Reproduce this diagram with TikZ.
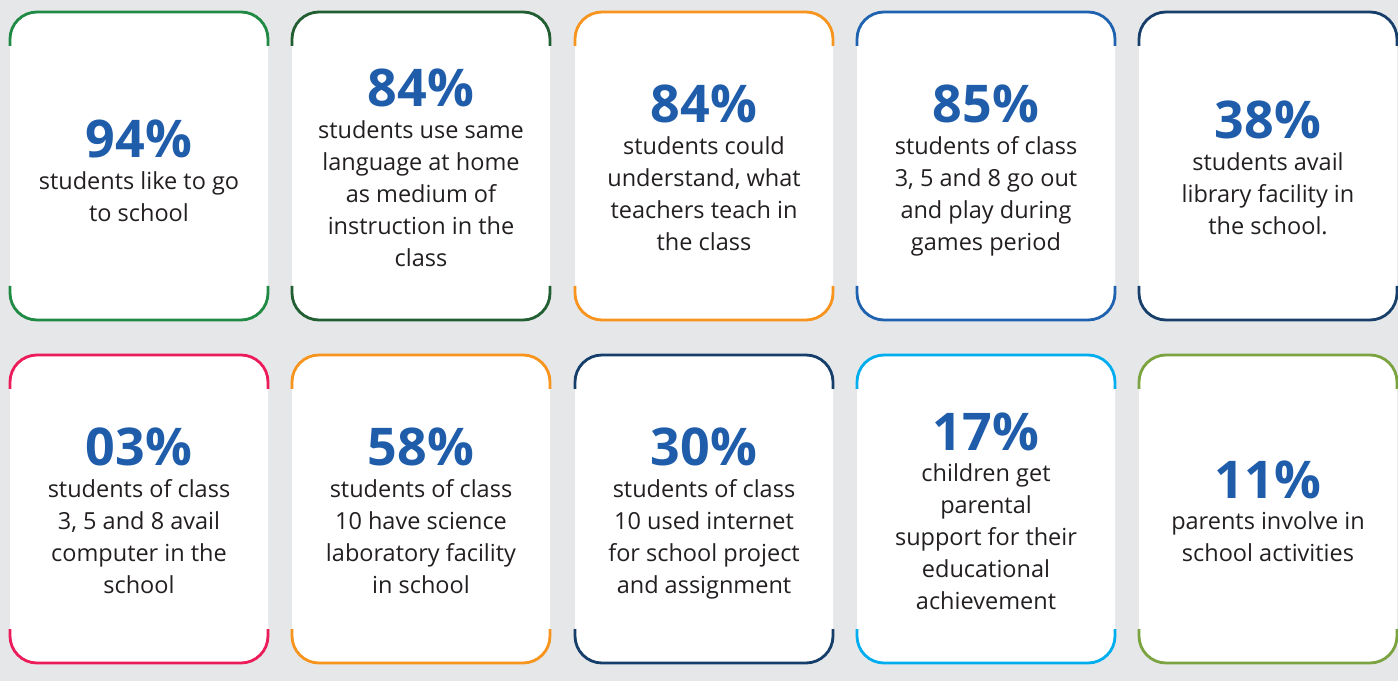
\documentclass[tikz,border=0pt]{standalone}
\usepackage{fontspec}
\setmainfont{Open Sans}
\usetikzlibrary{positioning}
\definecolor{bgColor}{RGB}{230,231,233}
\definecolor{pctColor}{RGB}{31,93,170}
\definecolor{txtColor}{RGB}{35,31,32}
\tikzset{
  rim/.style={line width=2.8pt,rounded corners=27pt,line cap=butt},
  pct/.style={text=pctColor,anchor=base,inner sep=0pt,outer sep=0pt,font=\fontsize{52}{52}\selectfont\bfseries},
  body/.style={text=txtColor,anchor=north,align=center,inner sep=0pt,outer sep=0pt,font=\fontsize{23.5}{32}\selectfont},
}
\begin{document}
\begin{tikzpicture}[x=1pt,y=1pt]
\path[use as bounding box,fill=bgColor] (0,0) rectangle (1398,681);
\definecolor{cardA}{RGB}{30,138,68}
\definecolor{cardB}{RGB}{33,94,50}
\definecolor{cardC}{RGB}{247,148,29}
\definecolor{cardD}{RGB}{31,99,176}
\definecolor{cardE}{RGB}{23,63,106}
\definecolor{cardF}{RGB}{236,28,91}
\definecolor{cardG}{RGB}{247,148,29}
\definecolor{cardH}{RGB}{21,62,107}
\definecolor{cardI}{RGB}{0,174,239}
\definecolor{cardJ}{RGB}{123,163,63}

% top row
\path[fill=white,rounded corners=27pt] ( 10,361) rectangle ( 268,669);
\path[draw=cardA,rim] ( 10,635) -- ( 10,669) -- ( 268,669) -- ( 268,635);
\path[draw=cardA,rim] ( 10,395) -- ( 10,361) -- ( 268,361) -- ( 268,395);
\node[pct] (p1) at (139,523) {94\%};
\node[body,below=13.5pt of p1] (t1) {students like to go\\to school};

\path[fill=white,rounded corners=27pt] (292,361) rectangle ( 550,669);
\path[draw=cardB,rim] (292,635) -- (292,669) -- ( 550,669) -- ( 550,635);
\path[draw=cardB,rim] (292,395) -- (292,361) -- ( 550,361) -- ( 550,395);
\node[pct] (p2) at (421,574) {84\%};
\node[body,below=13.5pt of p2] (t2) {students use same\\language at home\\as medium of\\instruction in the\\class};

\path[fill=white,rounded corners=27pt] (575,361) rectangle ( 833,669);
\path[draw=cardC,rim] (575,635) -- (575,669) -- ( 833,669) -- ( 833,635);
\path[draw=cardC,rim] (575,395) -- (575,361) -- ( 833,361) -- ( 833,395);
\node[pct] (p3) at (704,558) {84\%};
\node[body,below=13.5pt of p3] (t3) {students could\\understand, what\\teachers teach in\\the class};

\path[fill=white,rounded corners=27pt] (857,361) rectangle (1115,669);
\path[draw=cardD,rim] (857,635) -- (857,669) -- (1115,669) -- (1115,635);
\path[draw=cardD,rim] (857,395) -- (857,361) -- (1115,361) -- (1115,395);
\node[pct] (p4) at (986,558) {85\%};
\node[body,below=13.5pt of p4] (t4) {students of class\\3, 5 and 8 go out\\and play during\\games period};

\path[fill=white,rounded corners=27pt] (1139,361) rectangle (1397,669);
\path[draw=cardE,rim] (1139,635) -- (1139,669) -- (1397,669) -- (1397,635);
\path[draw=cardE,rim] (1139,395) -- (1139,361) -- (1397,361) -- (1397,395);
\node[pct] (p5) at (1268,542) {38\%};
\node[body,below=13.5pt of p5] (t5) {students avail\\library facility in\\the school.};

% bottom row
\path[fill=white,rounded corners=27pt] ( 10, 18) rectangle ( 268,326);
\path[draw=cardF,rim] ( 10,292) -- ( 10,326) -- ( 268,326) -- ( 268,292);
\path[draw=cardF,rim] ( 10, 52) -- ( 10, 18) -- ( 268, 18) -- ( 268, 52);
\node[pct] (p6) at (139,215) {03\%};
\node[body,below=13.5pt of p6] (t6) {students of class\\3, 5 and 8 avail\\computer in the\\school};

\path[fill=white,rounded corners=27pt] (292, 18) rectangle ( 550,326);
\path[draw=cardG,rim] (292,292) -- (292,326) -- ( 550,326) -- ( 550,292);
\path[draw=cardG,rim] (292, 52) -- (292, 18) -- ( 550, 18) -- ( 550, 52);
\node[pct] (p7) at (421,215) {58\%};
\node[body,below=13.5pt of p7] (t7) {students of class\\10 have science\\laboratory facility\\in school};

\path[fill=white,rounded corners=27pt] (575, 18) rectangle ( 833,326);
\path[draw=cardH,rim] (575,292) -- (575,326) -- ( 833,326) -- ( 833,292);
\path[draw=cardH,rim] (575, 52) -- (575, 18) -- ( 833, 18) -- ( 833, 52);
\node[pct] (p8) at (704,215) {30\%};
\node[body,below=13.5pt of p8] (t8) {students of class\\10 used internet\\for school project\\and assignment};

\path[fill=white,rounded corners=27pt] (857, 18) rectangle (1115,326);
\path[draw=cardI,rim] (857,292) -- (857,326) -- (1115,326) -- (1115,292);
\path[draw=cardI,rim] (857, 52) -- (857, 18) -- (1115, 18) -- (1115, 52);
\node[pct] (p9) at (986,231) {17\%};
\node[body,below=13.5pt of p9] (t9) {children get\\parental\\support for their\\educational\\achievement};

\path[fill=white,rounded corners=27pt] (1139, 18) rectangle (1397,326);
\path[draw=cardJ,rim] (1139,292) -- (1139,326) -- (1397,326) -- (1397,292);
\path[draw=cardJ,rim] (1139, 52) -- (1139, 18) -- (1397, 18) -- (1397, 52);
\node[pct] (p10) at (1268,183) {11\%};
\node[body,below=13.5pt of p10] (t10) {parents involve in\\school activities};
\end{tikzpicture}
\end{document}
